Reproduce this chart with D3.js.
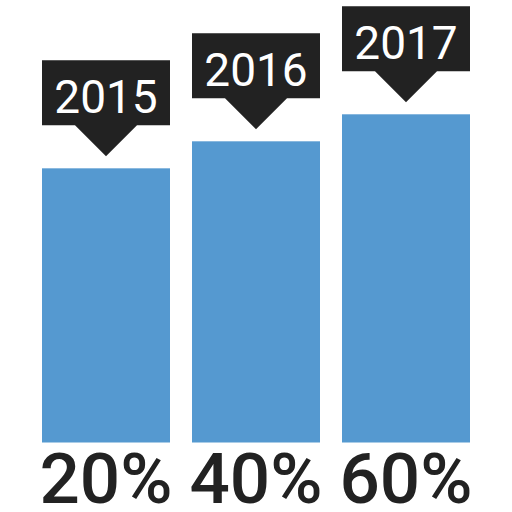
<!DOCTYPE html>
<html><head><meta charset="utf-8">
<script src="https://cdn.jsdelivr.net/npm/d3@7"></script>
<style>html,body{margin:0;padding:0;background:#fff;}svg{display:block;}</style>
</head><body>
<svg id="chart" width="512" height="512"></svg>
<script>
const years = ["2015", "2016", "2017"];
const values = [20, 40, 60];
const percentLabels = ["20%", "40%", "60%"];

const svg = d3.select("#chart");
const x = d3.scaleBand().domain(years).range([42, 470]).paddingInner(22/150).paddingOuter(0);
const y = d3.scaleLinear().domain([-183, 60]).range([442.5, 114.3]);

const g = svg.append("g");
years.forEach((yr, i) => {
  const x0 = x(yr), w = x.bandwidth(), cx = x0 + w/2;
  const top = y(values[i]);
  g.append("rect").attr("x", x0).attr("y", top).attr("width", w).attr("height", y(-183) - top).attr("fill", "#5599d0");
  const bTop = top - 108, bBot = top - 43, tip = top - 12;
  g.append("path")
    .attr("d", `M${x0},${bTop}H${x0+w}V${bBot}H${cx+31}L${cx},${tip}L${cx-31},${bBot}H${x0}Z`)
    .attr("fill", "#222222");
  g.append("text").attr("x", cx).attr("y", bTop + 53).attr("text-anchor", "middle")
    .attr("font-family", "Roboto").attr("font-size", 46).attr("fill", "#fff").text(yr);
  g.append("text").attr("x", cx).attr("y", 503).attr("text-anchor", "middle")
    .attr("font-family", "Roboto").attr("font-weight", 500).attr("font-size", 71).attr("fill", "#222222").text(percentLabels[i]);
});
</script>
</body></html>
